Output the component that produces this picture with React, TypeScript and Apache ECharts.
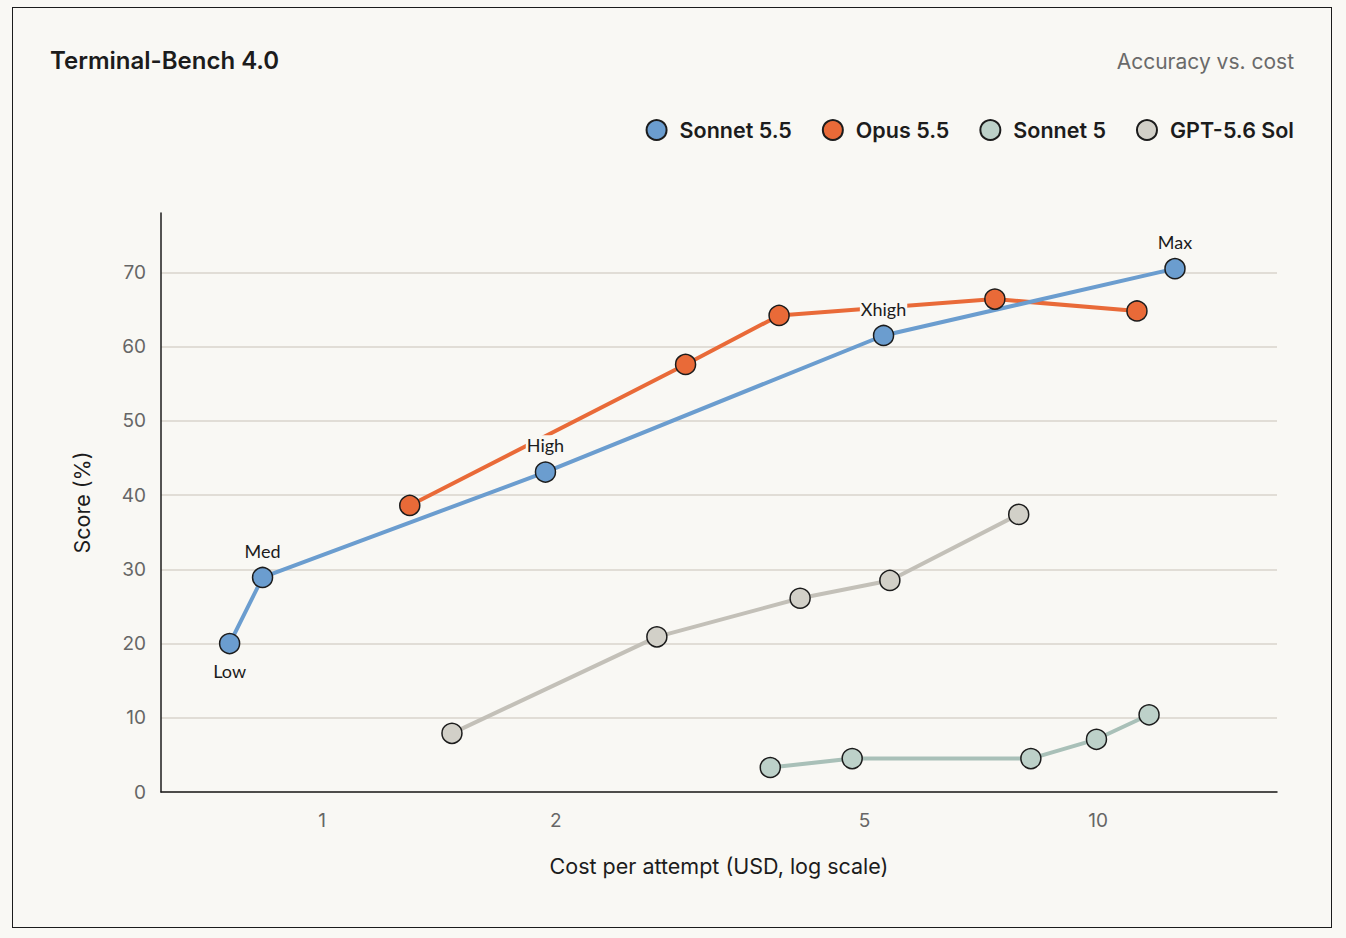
import { useEffect, useRef } from 'react'
import * as echarts from 'echarts'

// cost per attempt (USD) and score (%) for each model
const sonnet55Cost = [0.76, 0.838, 1.94, 5.29, 12.56]
const sonnet55Score = [20.0, 28.9, 43.1, 61.5, 70.5]
const sonnet55Labels = ['Low', 'Med', 'High', 'Xhigh', 'Max']

const opus55Cost = [1.297, 2.94, 3.88, 7.36, 11.22]
const opus55Score = [38.6, 57.6, 64.2, 66.4, 64.8]

const sonnet5Cost = [3.78, 4.82, 8.19, 9.95, 11.63]
const sonnet5Score = [3.3, 4.5, 4.5, 7.1, 10.4]

const gptCost = [1.47, 2.7, 4.13, 5.39, 7.9]
const gptScore = [7.9, 20.9, 26.1, 28.5, 37.4]

const xTickValues = [1, 2, 5, 10]
const yTickValues = [0, 10, 20, 30, 40, 50, 60, 70]
const xRange = [0.62, 17]
const yRange = [0, 78]

const BG = '#f9f8f4'
const INK = '#1c1c1c'
const FONT = 'Inter, "Noto Sans", sans-serif'

const toPoints = (cost: number[], score: number[]) =>
  cost.map((c, i) => [Math.log10(c), score[i]])

export default function App() {
  const chartRef = useRef<HTMLDivElement>(null)

  useEffect(() => {
    if (!chartRef.current) return
    const chart = echarts.init(chartRef.current, undefined, { renderer: 'svg' })

    const lineSeries = (
      name: string,
      cost: number[],
      score: number[],
      fill: string,
      line: string,
    ) => ({
      name,
      type: 'line',
      data: toPoints(cost, score),
      symbol: 'circle',
      symbolSize: 20,
      itemStyle: { color: fill, borderColor: INK, borderWidth: 1.5 },
      lineStyle: { color: line, width: 4 },
      emphasis: { disabled: true },
    })

    const sonnet55 = {
      ...lineSeries('Sonnet 5.5', sonnet55Cost, sonnet55Score, '#6b9dcf', '#6b9dcf'),
      data: toPoints(sonnet55Cost, sonnet55Score).map((p, i) => ({
        value: p,
        label: {
          show: true,
          formatter: sonnet55Labels[i],
          position: i === 0 ? 'bottom' : 'top',
          distance: 7,
          color: INK,
          fontSize: 18,
          fontFamily: 'Lato, "Noto Sans", sans-serif',
          backgroundColor: BG,
          padding: [1, 1, 0, 1],
        },
      })),
    }

    chart.setOption({
      animation: false,
      backgroundColor: BG,
      title: [
        {
          text: 'Terminal-Bench 4.0',
          left: 45,
          top: 43,
          textStyle: { fontFamily: FONT, fontSize: 24, fontWeight: 600, color: INK },
        },
        {
          text: 'Accuracy vs. cost',
          right: 47,
          top: 46,
          textStyle: { fontFamily: FONT, fontSize: 21, fontWeight: 400, color: '#6a6a6a' },
        },
      ],
      legend: {
        data: ['Sonnet 5.5', 'Opus 5.5', 'Sonnet 5', 'GPT-5.6 Sol'],
        right: 47,
        top: 114,
        icon: 'circle',
        itemWidth: 20,
        itemHeight: 20,
        itemGap: 30,
        textStyle: {
          fontFamily: FONT,
          fontSize: 21.5,
          fontWeight: 600,
          color: INK,
          padding: [0, 0, 0, 8],
        },
      },
      grid: { left: 161, right: 69, top: 213, bottom: 146 },
      xAxis: {
        type: 'value',
        min: Math.log10(xRange[0]),
        max: Math.log10(xRange[1]),
        name: 'Cost per attempt (USD, log scale)',
        nameLocation: 'middle',
        nameGap: 63,
        nameTextStyle: { fontFamily: FONT, fontSize: 21.5, color: INK },
        axisLine: { onZero: false, lineStyle: { color: INK, width: 1.5 } },
        axisTick: { show: false },
        splitLine: { show: false },
        axisLabel: {
          customValues: xTickValues.map((v) => Math.log10(v)),
          formatter: (v: number) => String(Math.round(Math.pow(10, v))),
          margin: 19,
          fontFamily: FONT,
          fontSize: 19,
          color: '#666',
        },
      },
      yAxis: {
        type: 'value',
        min: yRange[0],
        max: yRange[1],
        name: 'Score (%)',
        nameLocation: 'middle',
        nameGap: 68,
        nameTextStyle: { fontFamily: FONT, fontSize: 21.5, color: INK },
        axisLine: { show: true, onZero: false, lineStyle: { color: INK, width: 1.5 } },
        axisTick: { show: false, customValues: yTickValues },
        splitLine: { show: true, lineStyle: { color: '#d8d5cc', width: 1.5 } },
        axisLabel: {
          customValues: yTickValues,
          margin: 15,
          fontFamily: FONT,
          fontSize: 19,
          color: '#666',
        },
      },
      series: [
        lineSeries('GPT-5.6 Sol', gptCost, gptScore, '#d2d0c8', '#c3c0b8'),
        lineSeries('Sonnet 5', sonnet5Cost, sonnet5Score, '#bdd1c9', '#a9c0b8'),
        lineSeries('Opus 5.5', opus55Cost, opus55Score, '#e96a38', '#e96a38'),
        sonnet55,
      ],
    })

    return () => {
      chart.dispose()
    }
  }, [])

  return (
    <div style={{ position: 'fixed', inset: 0, background: BG }}>
      <div
        ref={chartRef}
        style={{ position: 'absolute', left: 0, top: 0, width: 1346, height: 938 }}
      />
      <div
        style={{
          position: 'absolute',
          left: 12,
          top: 7,
          width: 1320,
          height: 921,
          border: `1.5px solid ${INK}`,
          boxSizing: 'border-box',
          pointerEvents: 'none',
        }}
      />
    </div>
  )
}
